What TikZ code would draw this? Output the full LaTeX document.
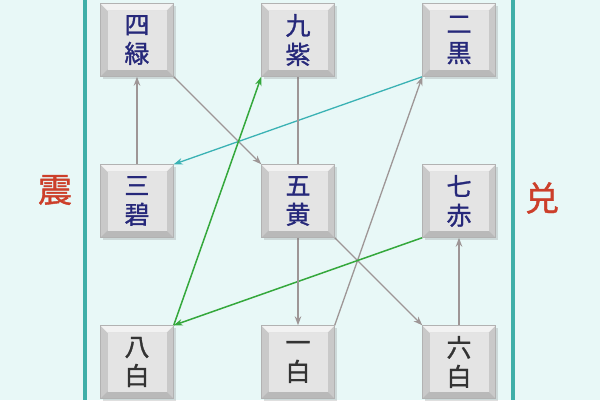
\documentclass[tikz,border=0pt]{standalone}
\usepackage{fontspec}
\newfontfamily\jp[FakeBold=1.2]{Noto Sans CJK JP}
\usetikzlibrary{positioning,arrows.meta,shadows,backgrounds}

\definecolor{paper}{HTML}{E8F8F7}
\definecolor{frame}{HTML}{3FAFA8}
\definecolor{keyink}{HTML}{26287A}
\definecolor{keyface}{HTML}{E4E4E4}
\definecolor{keyrim}{HTML}{C9C9C9}
\definecolor{greyline}{HTML}{9E9696}
\definecolor{greenline}{HTML}{34A83C}
\definecolor{cyanline}{HTML}{3AB2B4}
\definecolor{sealred}{HTML}{CC3F2A}

\tikzset{
  key/.style={fill=keyrim, draw=gray!60, minimum size=73pt, inner sep=0pt, align=center,
    font=\jp\fontsize{25}{29}\selectfont, text=keyink,
    drop shadow={shadow xshift=2pt,shadow yshift=-2pt,opacity=.25},
    path picture={
      \fill[white!90!gray] (path picture bounding box.north west) -- (path picture bounding box.north east)
        -- ([shift={(-7pt,-7pt)}]path picture bounding box.north east) -- ([shift={(7pt,-7pt)}]path picture bounding box.north west) -- cycle;
      \fill[gray!55] (path picture bounding box.south west) -- (path picture bounding box.south east)
        -- ([shift={(-7pt,7pt)}]path picture bounding box.south east) -- ([shift={(7pt,7pt)}]path picture bounding box.south west) -- cycle;
      \fill[keyface] ([shift={(7pt,7pt)}]path picture bounding box.south west) rectangle ([shift={(-7pt,-7pt)}]path picture bounding box.north east);
    }},
  white key/.style={key, text=black!80},
  side/.style={font=\jp\fontsize{34}{36}\selectfont, text=sealred},
  flow/.style={->, draw=greyline, line width=1.3pt},
  cyan flow/.style={->, draw=cyanline, line width=1.3pt},
  green flow/.style={->, draw=greenline, line width=1.5pt}
}

\begin{document}
\begin{tikzpicture}[x=1pt,y=-1pt,node distance=161pt,on grid,>={Stealth[length=9pt,width=6.5pt]}]
\useasboundingbox (0,0) rectangle (600,400);
\begin{scope}[on background layer]
  \fill[paper] (0,0) rectangle (600,400);
  \draw[frame, line width=4.5pt] (85,0) -- (85,400) (513,0) -- (513,400);
\end{scope}
\node[key] (s4) at (137,40) {四\\緑};
\node[key] (s9) [right=of s4] {九\\紫};
\node[key] (s2) [right=of s9] {二\\黒};
\node[key] (s3) [below=of s4] {三\\碧};
\node[key] (s5) [below=of s9] {五\\黄};
\node[key] (s7) [below=of s2] {七\\赤};
\node[white key] (s8) [below=of s3] {八\\白};
\node[white key] (s1) [below=of s5] {一\\白};
\node[white key] (s6) [below=of s7] {六\\白};
\node[side] (zhen) at (55,190) {震};
\node[side] (dui) at (542,198) {兑};
\begin{scope}[on background layer]
  \path
  (s1.north east) edge[flow] (s2.south west)
  (s2.south west) edge[cyan flow] (s3.north east)
  (s3.north) edge[flow] (s4.south)
  (s4.south east) edge[flow] (s5.north west)
  (s5.south east) edge[flow] (s6.north west)
  (s6.north) edge[flow] (s7.south)
  (s7.south west) edge[green flow] (s8.north east)
  (s8.north east) edge[green flow] (s9.south west)
  (s9.south) edge[flow] (s1.north);
\end{scope}
\end{tikzpicture}
\end{document}
